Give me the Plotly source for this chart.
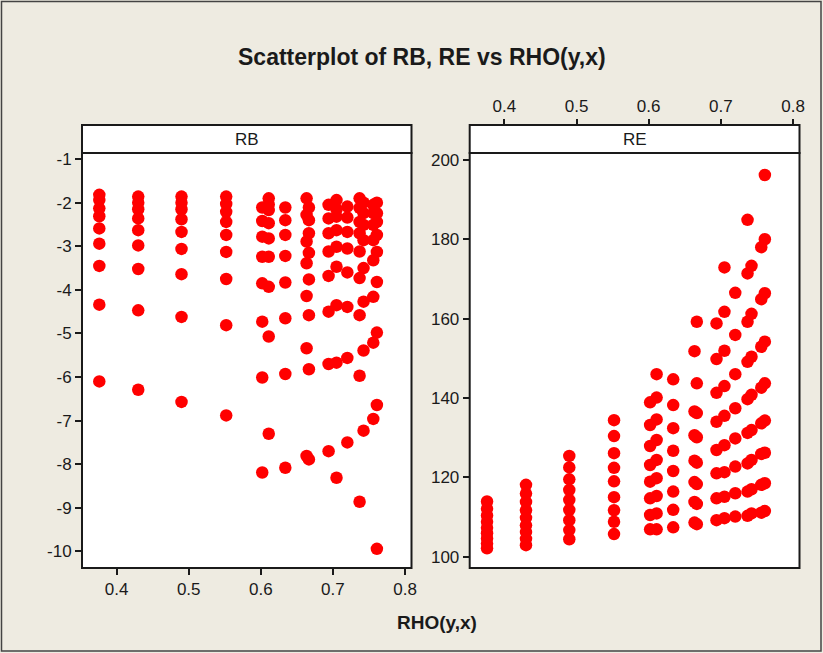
import plotly.graph_objects as go

# ---------------- data ----------------
rho = (
    [0.376] * 9 + [0.430] * 9 + [0.490] * 9 + [0.552] * 9 +
    [0.602] * 8 + [0.611] * 9 + [0.634] * 8 + [0.6635] * 7 + [0.6667] * 8 +
    [0.694] * 8 + [0.705] * 9 + [0.720] * 8 + [0.737] * 9 + [0.7425] * 8 +
    [0.756] * 8 + [0.761] * 9
)
rb = [
    -1.82, -1.94, -2.13, -2.31, -2.59, -2.94, -3.45, -4.34, -6.10,
    -1.86, -2.00, -2.15, -2.36, -2.63, -2.98, -3.52, -4.47, -6.29,
    -1.86, -2.00, -2.15, -2.38, -2.67, -3.06, -3.64, -4.62, -6.57,
    -1.86, -2.03, -2.21, -2.44, -2.74, -3.13, -3.75, -4.81, -6.88,
    -2.11, -2.42, -2.78, -3.24, -3.85, -4.73, -6.01, -8.19,
    -1.90, -2.04, -2.17, -2.47, -2.82, -3.24, -3.93, -5.07, -7.30,
    -2.11, -2.40, -2.74, -3.22, -3.83, -4.65, -5.93, -8.08,
    -1.90, -2.28, -2.89, -3.39, -4.14, -5.34, -7.81,
    -2.11, -2.40, -2.70, -3.15, -3.76, -4.58, -5.82, -7.89,
    -2.05, -2.36, -2.70, -3.12, -3.68, -4.50, -5.70, -7.70,
    -1.94, -2.15, -2.32, -2.63, -3.01, -3.47, -4.35, -5.67, -8.31,
    -2.09, -2.34, -2.67, -3.05, -3.60, -4.39, -5.56, -7.50,
    -1.90, -2.12, -2.44, -2.70, -3.12, -3.73, -4.58, -5.97, -8.86,
    -2.00, -2.24, -2.51, -2.86, -3.50, -4.27, -5.39, -7.23,
    -2.05, -2.24, -2.51, -2.86, -3.32, -4.16, -5.21, -6.96,
    -2.00, -2.24, -2.44, -2.74, -3.13, -3.82, -4.98, -6.64, -9.94,
]
re = [
    102.1, 103.3, 104.6, 105.9, 107.3, 108.8, 110.4, 112.1, 113.9,
    102.9, 104.5, 106.2, 107.9, 109.8, 111.7, 113.8, 115.9, 118.1,
    104.4, 106.7, 109.2, 111.8, 114.3, 116.8, 119.5, 122.5, 125.4,
    105.7, 108.8, 111.7, 115.0, 119.0, 122.4, 126.1, 130.4, 134.4,
    106.9, 110.5, 114.7, 118.9, 123.1, 127.9, 133.2, 138.9,
    106.9, 110.9, 115.3, 119.8, 124.4, 129.4, 134.6, 140.1, 146.0,
    107.4, 111.8, 116.4, 121.6, 126.7, 132.4, 138.2, 144.7,
    108.6, 113.8, 118.8, 124.2, 130.6, 136.6, 151.8,
    108.2, 113.3, 118.3, 123.7, 130.1, 136.2, 143.7, 159.2,
    109.2, 114.7, 121.0, 126.9, 134.0, 141.3, 149.8, 158.8,
    109.7, 115.1, 121.3, 128.1, 135.5, 143.0, 151.9, 161.7, 172.9,
    110.1, 116.0, 122.7, 129.8, 137.4, 146.0, 155.9, 166.5,
    110.3, 116.4, 123.5, 131.2, 139.7, 149.1, 159.2, 171.4, 184.9,
    110.9, 117.0, 124.4, 131.9, 140.8, 150.4, 161.2, 173.3,
    111.1, 118.1, 125.9, 133.6, 142.6, 152.9, 164.9, 178.0,
    111.5, 118.5, 126.2, 134.3, 143.7, 154.2, 166.4, 180.0, 196.2,
]
x_ticks = [0.4, 0.5, 0.6, 0.7, 0.8]
x_ticktext = ["0.4", "0.5", "0.6", "0.7", "0.8"]
rb_ticks = [-1, -2, -3, -4, -5, -6, -7, -8, -9, -10]
rb_ticktext = ["-1", "-2", "-3", "-4", "-5", "-6", "-7", "-8", "-9", "-10"]
re_ticks = [100, 120, 140, 160, 180, 200]
re_ticktext = ["100", "120", "140", "160", "180", "200"]

# ---------------- layout helpers ----------------
W, H = 823, 653
FONT = "Liberation Sans, Arial, sans-serif"
INK = "#1a1a1a"


def fx(p):
    return p / W


def fy(p):
    return 1 - p / H


L_X0, L_X1 = 82, 411.5
R_X0, R_X1 = 469.7, 799.5
P_Y0, P_Y1 = 153, 568
S_Y0 = 125

fig = go.Figure()
marker = dict(color="#FF0000", size=12.5, line=dict(width=0))
fig.add_trace(go.Scatter(x=rho, y=rb, mode="markers", marker=marker,
                         xaxis="x", yaxis="y", hoverinfo="x+y"))
fig.add_trace(go.Scatter(x=rho, y=re, mode="markers", marker=marker,
                         xaxis="x2", yaxis="y2", hoverinfo="x+y"))

axis_common = dict(showgrid=False, zeroline=False, showline=False,
                   ticks="outside", ticklen=6, tickwidth=1.5, tickcolor=INK,
                   tickfont=dict(family=FONT, size=17, color=INK))

fig.update_layout(
    width=W, height=H,
    margin=dict(l=0, r=0, t=0, b=0, autoexpand=False),
    paper_bgcolor="#EEEBE1",
    plot_bgcolor="white",
    showlegend=False,
    font=dict(family=FONT, color=INK),
    xaxis=dict(domain=[fx(L_X0), fx(L_X1)], range=[0.352, 0.809], anchor="y",
               tickvals=x_ticks, ticktext=x_ticktext, **axis_common),
    yaxis=dict(domain=[fy(P_Y1), fy(P_Y0)], range=[-10.38, -0.86], anchor="x",
               tickvals=rb_ticks, ticktext=rb_ticktext, **axis_common),
    xaxis2=dict(domain=[fx(R_X0), fx(R_X1)], range=[0.352, 0.809], anchor="free",
                position=fy(S_Y0), side="top",
                tickvals=x_ticks, ticktext=x_ticktext, **axis_common),
    yaxis2=dict(domain=[fy(P_Y1), fy(P_Y0)], range=[97.15, 201.74], anchor="x2",
                tickvals=re_ticks, ticktext=re_ticktext, **axis_common),
)

shapes = []
for x0, x1 in [(L_X0, L_X1), (R_X0, R_X1)]:
    # plot frame
    shapes.append(dict(type="rect", xref="paper", yref="paper",
                       x0=fx(x0), x1=fx(x1), y0=fy(P_Y1), y1=fy(P_Y0),
                       line=dict(color=INK, width=2), fillcolor="rgba(0,0,0,0)"))
    # strip header
    shapes.append(dict(type="rect", xref="paper", yref="paper",
                       x0=fx(x0), x1=fx(x1), y0=fy(P_Y0), y1=fy(S_Y0),
                       line=dict(color=INK, width=2), fillcolor="white"))
# outer border
shapes.append(dict(type="rect", xref="paper", yref="paper",
                   x0=fx(1.5), x1=fx(821), y0=fy(651), y1=fy(1.5),
                   line=dict(color="#444444", width=1.5), fillcolor="rgba(0,0,0,0)"))
fig.update_layout(shapes=shapes)

annotations = [
    dict(text="<b>Scatterplot of RB, RE vs RHO(y,x)</b>", x=fx(422), y=fy(57),
         xref="paper", yref="paper", showarrow=False, xanchor="center", yanchor="middle",
         font=dict(family=FONT, size=23, color=INK)),
    dict(text="RB", x=fx((L_X0 + L_X1) / 2), y=fy((S_Y0 + P_Y0) / 2),
         xref="paper", yref="paper", showarrow=False, xanchor="center", yanchor="middle",
         font=dict(family=FONT, size=17, color=INK)),
    dict(text="RE", x=fx((R_X0 + R_X1) / 2), y=fy((S_Y0 + P_Y0) / 2),
         xref="paper", yref="paper", showarrow=False, xanchor="center", yanchor="middle",
         font=dict(family=FONT, size=17, color=INK)),
    dict(text="<b>RHO(y,x)</b>", x=fx(437), y=fy(622),
         xref="paper", yref="paper", showarrow=False, xanchor="center", yanchor="middle",
         font=dict(family=FONT, size=19, color=INK)),
]
fig.update_layout(annotations=annotations)

fig.write_html("out.html", config={"displayModeBar": False},
               post_script="document.body.style.margin='0';")
